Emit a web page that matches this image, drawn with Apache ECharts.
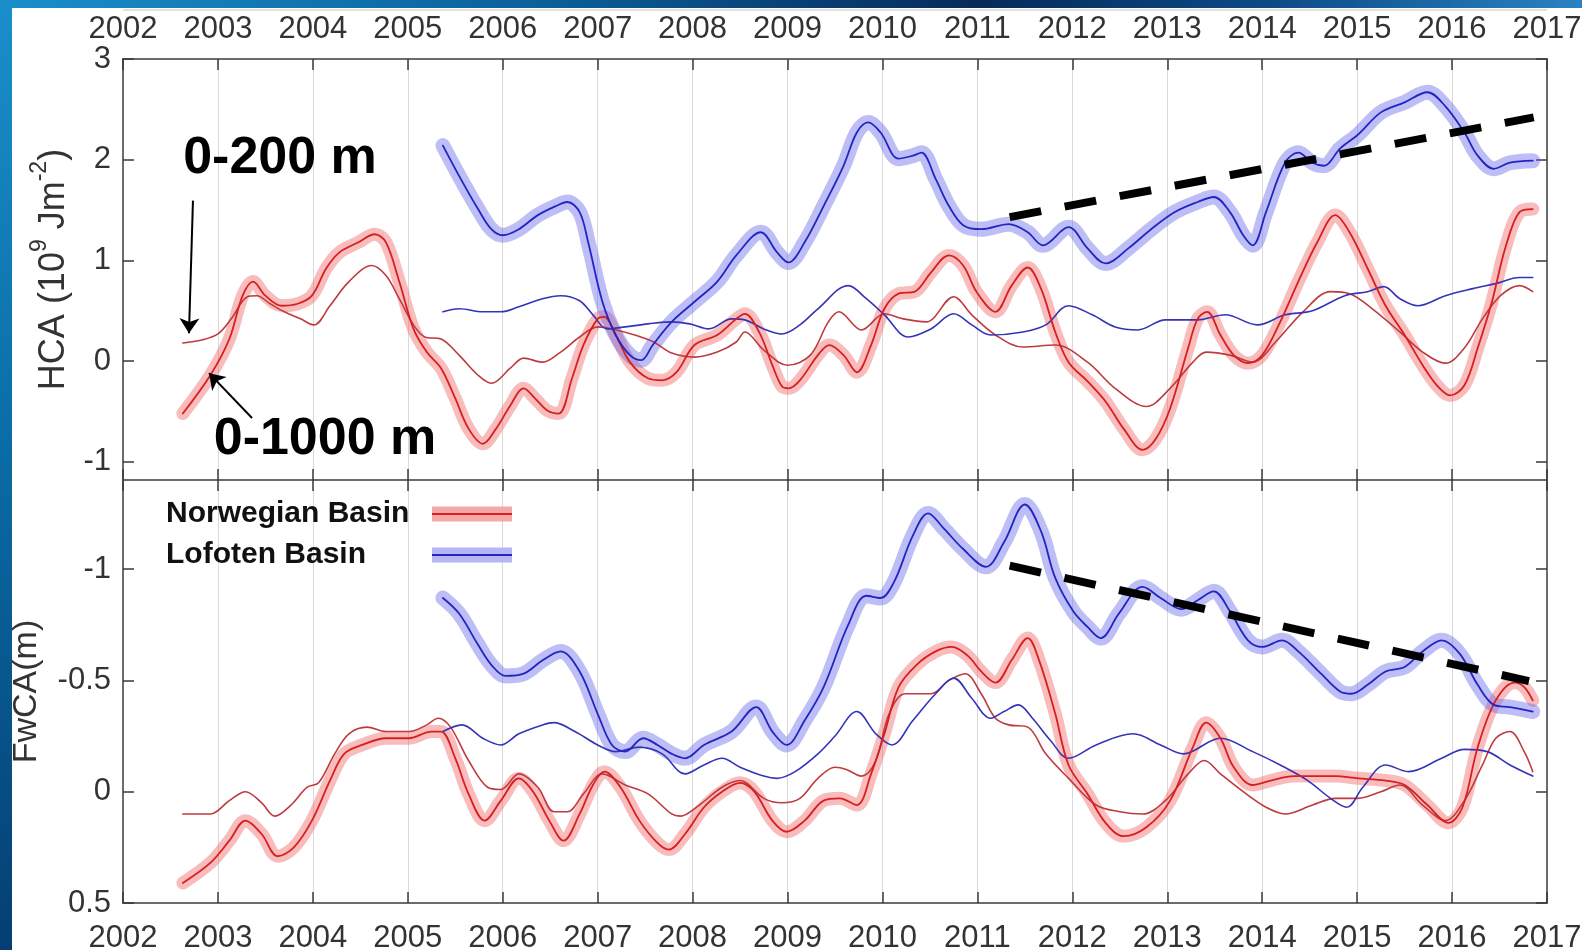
<!DOCTYPE html>
<html><head><meta charset="utf-8">
<script src="https://cdn.jsdelivr.net/npm/echarts@6/dist/echarts.min.js"></script>
<style>html,body{margin:0;padding:0;background:#fff}#c{width:1582px;height:950px}</style>
</head><body><div id="c"></div>
<script>
// ---------- data ----------
const hcaTicks = [-1, 0, 1, 2, 3];
const fwcaTicks = [-1, -0.5, 0, 0.5];
const legendNames = ['Norwegian Basin', 'Lofoten Basin'];
const depthLabels = ['0-200 m', '0-1000 m'];

// HCA (10^9 J m^-2), Norwegian Basin 0-1000 m
const nbHca1000 = [[2002.63,-0.52],[2002.92,-0.14],[2003.12,0.22],[2003.26,0.65],[2003.37,0.79],[2003.50,0.65],[2003.67,0.55],[2003.84,0.57],[2003.99,0.65],[2004.14,0.92],[2004.28,1.08],[2004.48,1.18],[2004.65,1.26],[2004.77,1.18],[2004.91,0.79],[2005.06,0.32],[2005.20,0.09],[2005.35,-0.07],[2005.50,-0.37],[2005.64,-0.67],[2005.79,-0.82],[2005.93,-0.67],[2006.08,-0.44],[2006.22,-0.27],[2006.34,-0.37],[2006.47,-0.49],[2006.59,-0.52],[2006.73,-0.17],[2006.85,0.16],[2007.00,0.42],[2007.07,0.44],[2007.19,0.26],[2007.34,-0.01],[2007.53,-0.17],[2007.68,-0.19],[2007.83,-0.11],[2008.02,0.16],[2008.26,0.26],[2008.46,0.42],[2008.55,0.47],[2008.70,0.29],[2008.84,-0.04],[2008.94,-0.25],[2009.01,-0.27],[2009.13,-0.19],[2009.32,0.06],[2009.44,0.16],[2009.59,0.06],[2009.73,-0.11],[2009.88,0.16],[2010.02,0.52],[2010.17,0.67],[2010.34,0.69],[2010.51,0.88],[2010.70,1.05],[2010.85,0.95],[2010.99,0.69],[2011.19,0.49],[2011.36,0.75],[2011.53,0.93],[2011.67,0.72],[2011.82,0.29],[2011.96,-0.01],[2012.16,-0.20],[2012.35,-0.40],[2012.54,-0.67],[2012.74,-0.88],[2012.88,-0.77],[2013.03,-0.47],[2013.22,0.13],[2013.32,0.42],[2013.42,0.49],[2013.56,0.26],[2013.70,0.06],[2013.85,-0.02],[2014.00,0.06],[2014.19,0.39],[2014.38,0.79],[2014.58,1.18],[2014.77,1.45],[2014.92,1.28],[2015.11,0.92],[2015.30,0.55],[2015.50,0.26],[2015.69,-0.04],[2015.84,-0.24],[2015.98,-0.34],[2016.13,-0.24],[2016.27,0.13],[2016.42,0.59],[2016.56,1.12],[2016.71,1.48],[2016.85,1.51]];
// HCA, Norwegian Basin 0-200 m
const nbHca200 = [[2002.63,0.18],[2002.83,0.21],[2003.00,0.27],[2003.14,0.42],[2003.31,0.64],[2003.41,0.65],[2003.55,0.57],[2003.70,0.49],[2003.87,0.42],[2004.01,0.36],[2004.18,0.55],[2004.38,0.79],[2004.62,0.95],[2004.77,0.85],[2004.91,0.62],[2005.06,0.36],[2005.18,0.24],[2005.35,0.22],[2005.54,0.06],[2005.74,-0.14],[2005.88,-0.22],[2006.08,-0.07],[2006.22,0.03],[2006.42,-0.01],[2006.61,0.09],[2006.81,0.24],[2007.00,0.34],[2007.15,0.32],[2007.39,0.26],[2007.59,0.19],[2007.78,0.08],[2008.02,0.04],[2008.26,0.09],[2008.46,0.19],[2008.55,0.29],[2008.75,0.11],[2009.00,-0.04],[2009.24,0.06],[2009.43,0.39],[2009.54,0.49],[2009.78,0.31],[2010.02,0.47],[2010.22,0.42],[2010.46,0.39],[2010.75,0.64],[2010.94,0.46],[2011.19,0.26],[2011.48,0.14],[2011.82,0.16],[2012.16,-0.01],[2012.45,-0.27],[2012.78,-0.45],[2013.03,-0.27],[2013.27,-0.01],[2013.41,0.09],[2013.66,0.06],[2013.90,-0.01],[2014.14,0.19],[2014.43,0.49],[2014.72,0.69],[2014.92,0.67],[2015.16,0.52],[2015.45,0.29],[2015.69,0.09],[2015.93,-0.02],[2016.13,0.13],[2016.32,0.42],[2016.51,0.65],[2016.71,0.75],[2016.85,0.69]];
// HCA, Lofoten Basin 0-1000 m
const lbHca1000 = [[2005.37,2.14],[2005.54,1.84],[2005.74,1.51],[2005.88,1.31],[2006.00,1.25],[2006.17,1.31],[2006.37,1.45],[2006.56,1.54],[2006.68,1.58],[2006.81,1.48],[2006.90,1.18],[2007.05,0.59],[2007.19,0.26],[2007.34,0.06],[2007.46,0.01],[2007.58,0.16],[2007.78,0.39],[2008.02,0.59],[2008.26,0.79],[2008.46,1.05],[2008.72,1.28],[2008.89,1.08],[2009.01,0.98],[2009.18,1.18],[2009.38,1.54],[2009.59,1.94],[2009.73,2.27],[2009.85,2.37],[2009.98,2.27],[2010.17,2.01],[2010.32,2.04],[2010.41,2.07],[2010.56,1.81],[2010.70,1.54],[2010.85,1.35],[2011.04,1.31],[2011.33,1.36],[2011.53,1.28],[2011.69,1.15],[2011.96,1.33],[2012.16,1.12],[2012.35,0.97],[2012.59,1.12],[2012.83,1.31],[2013.08,1.48],[2013.32,1.58],[2013.49,1.63],[2013.66,1.48],[2013.80,1.25],[2013.90,1.15],[2014.04,1.48],[2014.24,1.97],[2014.38,2.07],[2014.53,1.97],[2014.65,1.94],[2014.82,2.11],[2015.01,2.25],[2015.25,2.47],[2015.50,2.57],[2015.74,2.67],[2015.93,2.53],[2016.13,2.27],[2016.27,2.04],[2016.44,1.91],[2016.61,1.97],[2016.85,1.99]];
// HCA, Lofoten Basin 0-200 m
const lbHca200 = [[2005.37,0.49],[2005.54,0.52],[2005.79,0.49],[2005.98,0.49],[2006.17,0.54],[2006.42,0.62],[2006.61,0.65],[2006.81,0.60],[2006.95,0.46],[2007.10,0.32],[2007.29,0.34],[2007.53,0.37],[2007.78,0.39],[2007.97,0.37],[2008.17,0.32],[2008.41,0.42],[2008.55,0.41],[2008.75,0.32],[2008.94,0.27],[2009.13,0.36],[2009.32,0.52],[2009.64,0.75],[2009.83,0.62],[2010.02,0.46],[2010.27,0.24],[2010.51,0.32],[2010.75,0.47],[2010.94,0.36],[2011.14,0.26],[2011.48,0.29],[2011.72,0.36],[2011.96,0.55],[2012.21,0.46],[2012.45,0.34],[2012.69,0.31],[2012.98,0.41],[2013.32,0.41],[2013.61,0.46],[2013.95,0.36],[2014.24,0.46],[2014.53,0.50],[2014.87,0.65],[2015.11,0.69],[2015.28,0.74],[2015.45,0.62],[2015.64,0.55],[2015.93,0.65],[2016.22,0.72],[2016.46,0.77],[2016.71,0.83],[2016.85,0.83]];

// FwCA (m), Norwegian Basin 0-1000 m
const nbFw1000 = [[2002.63,0.41],[2002.92,0.32],[2003.12,0.22],[2003.29,0.13],[2003.46,0.19],[2003.63,0.29],[2003.80,0.25],[2003.99,0.13],[2004.18,-0.05],[2004.33,-0.17],[2004.52,-0.21],[2004.77,-0.24],[2005.01,-0.24],[2005.25,-0.27],[2005.35,-0.27],[2005.50,-0.15],[2005.64,0.01],[2005.81,0.13],[2005.98,0.04],[2006.17,-0.06],[2006.32,0.00],[2006.49,0.13],[2006.64,0.22],[2006.81,0.10],[2006.95,-0.03],[2007.07,-0.09],[2007.24,-0.02],[2007.44,0.13],[2007.63,0.23],[2007.75,0.26],[2007.92,0.19],[2008.12,0.07],[2008.31,0.00],[2008.50,-0.04],[2008.65,0.00],[2008.84,0.13],[2008.99,0.18],[2009.18,0.13],[2009.38,0.04],[2009.55,0.03],[2009.73,0.06],[2009.88,-0.08],[2010.02,-0.26],[2010.17,-0.47],[2010.36,-0.57],[2010.56,-0.63],[2010.73,-0.65],[2010.90,-0.61],[2011.04,-0.54],[2011.19,-0.49],[2011.36,-0.59],[2011.53,-0.69],[2011.65,-0.59],[2011.82,-0.35],[2011.96,-0.12],[2012.16,0.01],[2012.35,0.14],[2012.54,0.20],[2012.78,0.16],[2013.03,0.04],[2013.27,-0.20],[2013.41,-0.31],[2013.56,-0.24],[2013.70,-0.11],[2013.90,-0.03],[2014.09,-0.05],[2014.33,-0.07],[2014.58,-0.07],[2014.77,-0.07],[2015.01,-0.06],[2015.30,-0.05],[2015.50,-0.03],[2015.74,0.06],[2015.96,0.14],[2016.11,0.07],[2016.27,-0.20],[2016.46,-0.41],[2016.66,-0.49],[2016.76,-0.47],[2016.85,-0.41]];
// FwCA, Norwegian Basin 0-200 m
const nbFw200 = [[2002.63,0.10],[2002.92,0.10],[2003.12,0.04],[2003.29,0.00],[2003.46,0.05],[2003.60,0.11],[2003.77,0.06],[2003.94,-0.02],[2004.06,-0.04],[2004.23,-0.17],[2004.38,-0.26],[2004.57,-0.29],[2004.77,-0.27],[2005.01,-0.27],[2005.20,-0.30],[2005.32,-0.33],[2005.45,-0.29],[2005.64,-0.14],[2005.84,-0.02],[2005.98,-0.01],[2006.17,-0.08],[2006.37,-0.02],[2006.54,0.09],[2006.68,0.09],[2006.85,0.01],[2007.05,-0.08],[2007.29,-0.03],[2007.53,0.01],[2007.78,0.10],[2007.87,0.11],[2008.07,0.06],[2008.31,-0.02],[2008.50,-0.05],[2008.75,0.03],[2008.94,0.05],[2009.13,0.03],[2009.32,-0.06],[2009.50,-0.11],[2009.62,-0.10],[2009.78,-0.07],[2009.93,-0.14],[2010.07,-0.35],[2010.24,-0.44],[2010.51,-0.44],[2010.70,-0.50],[2010.87,-0.53],[2011.04,-0.44],[2011.19,-0.33],[2011.33,-0.30],[2011.53,-0.29],[2011.72,-0.17],[2011.96,-0.06],[2012.25,0.06],[2012.50,0.09],[2012.74,0.10],[2012.98,0.04],[2013.22,-0.08],[2013.39,-0.14],[2013.56,-0.08],[2013.80,0.00],[2014.04,0.07],[2014.24,0.10],[2014.53,0.06],[2014.77,0.03],[2015.01,0.03],[2015.25,0.00],[2015.45,-0.03],[2015.69,0.06],[2015.93,0.13],[2016.13,0.04],[2016.32,-0.12],[2016.46,-0.24],[2016.61,-0.27],[2016.76,-0.18],[2016.85,-0.09]];
// FwCA, Lofoten Basin 0-1000 m
const lbFw1000 = [[2005.37,-0.87],[2005.54,-0.80],[2005.74,-0.66],[2005.88,-0.57],[2006.03,-0.52],[2006.22,-0.53],[2006.42,-0.59],[2006.61,-0.63],[2006.81,-0.54],[2007.00,-0.35],[2007.15,-0.21],[2007.29,-0.18],[2007.48,-0.24],[2007.63,-0.21],[2007.78,-0.17],[2007.92,-0.15],[2008.12,-0.21],[2008.41,-0.27],[2008.67,-0.38],[2008.84,-0.27],[2008.99,-0.21],[2009.18,-0.32],[2009.38,-0.47],[2009.64,-0.75],[2009.83,-0.88],[2009.98,-0.87],[2010.12,-0.94],[2010.32,-1.15],[2010.48,-1.25],[2010.65,-1.18],[2010.85,-1.09],[2011.09,-1.01],[2011.28,-1.12],[2011.50,-1.29],[2011.67,-1.17],[2011.82,-0.96],[2012.01,-0.81],[2012.16,-0.74],[2012.30,-0.69],[2012.49,-0.80],[2012.74,-0.92],[2012.93,-0.87],[2013.15,-0.82],[2013.32,-0.86],[2013.49,-0.90],[2013.66,-0.81],[2013.85,-0.68],[2014.00,-0.65],[2014.21,-0.68],[2014.38,-0.63],[2014.62,-0.53],[2014.82,-0.45],[2014.94,-0.44],[2015.11,-0.48],[2015.30,-0.54],[2015.50,-0.56],[2015.69,-0.63],[2015.89,-0.68],[2016.08,-0.62],[2016.27,-0.48],[2016.44,-0.39],[2016.61,-0.38],[2016.85,-0.36]];
// FwCA, Lofoten Basin 0-200 m
const lbFw200 = [[2005.37,-0.27],[2005.57,-0.30],[2005.79,-0.24],[2005.98,-0.21],[2006.17,-0.26],[2006.42,-0.30],[2006.54,-0.31],[2006.76,-0.27],[2007.00,-0.21],[2007.19,-0.18],[2007.44,-0.20],[2007.68,-0.17],[2007.92,-0.08],[2008.12,-0.12],[2008.31,-0.15],[2008.50,-0.11],[2008.75,-0.07],[2008.89,-0.06],[2009.08,-0.09],[2009.32,-0.17],[2009.50,-0.25],[2009.73,-0.36],[2009.93,-0.26],[2010.10,-0.21],[2010.32,-0.32],[2010.56,-0.44],[2010.75,-0.51],[2010.94,-0.42],[2011.14,-0.33],[2011.28,-0.36],[2011.43,-0.39],[2011.58,-0.33],[2011.77,-0.23],[2011.96,-0.15],[2012.25,-0.21],[2012.64,-0.26],[2012.93,-0.21],[2013.17,-0.17],[2013.56,-0.24],[2013.90,-0.18],[2014.19,-0.12],[2014.48,-0.05],[2014.72,0.03],[2014.89,0.07],[2015.06,-0.02],[2015.30,-0.12],[2015.54,-0.09],[2015.89,-0.15],[2016.13,-0.19],[2016.37,-0.18],[2016.61,-0.12],[2016.85,-0.07]];

// trend lines (dashed) and annotation positions, in data units
const trendHca = [[2011.34, 1.43], [2016.86, 2.42]];
const trendFw = [[2011.34, -1.015], [2016.81, -0.497]];
const arrow200 = [[2002.737, 1.594], [2002.695, 0.277]];
const arrow1000 = [[2003.359, -0.564], [2002.906, -0.119]];
const label200 = [2003.654, 2.01];
const label1000 = [2004.128, -0.782];

// ---------- styles ----------
const FONT = "'Liberation Sans', Arial, Helvetica, sans-serif";
const RED = '#d81e1e', RED_THIN = '#bf3a3e', RED_BAND = 'rgba(238,80,80,0.38)';
const BLUE = '#2424c4', BLUE_THIN = '#3434b8', BLUE_BAND = 'rgba(100,100,234,0.42)';
const AXIS = '#6b6b6b', TXT = '#333';

function bandGrad(band, core) {
  return {type:'linear', x:0, y:0, x2:0, y2:1, colorStops:[
    {offset:0,color:band},{offset:0.4,color:band},{offset:0.42,color:core},
    {offset:0.58,color:core},{offset:0.6,color:band},{offset:1,color:band}]};
}

function ln(name, data, xi, yi, color, width, z) {
  return {name, type:'line', data, xAxisIndex:xi, yAxisIndex:yi, smooth:0.35,
    symbol:'none', showSymbol:false, silent:true, emphasis:{disabled:true},
    lineStyle:{color, width, cap:'round', join:'round'}, itemStyle:{color}, z};
}

function xAx(grid, pos, labels, split) {
  return {gridIndex:grid, type:'value', min:2002, max:2017, interval:1, position:pos,
    axisLine:{show:true, onZero:false, lineStyle:{color:AXIS, width:2}},
    axisTick:{show:true, inside:true, length:11, lineStyle:{color:'#3a3a3a', width:1.5}},
    axisLabel:{show:labels, margin: pos==='top'?14:20, fontSize:31, color:TXT, fontFamily:FONT,
      formatter:v=>String(v), hideOverlap:false},
    splitLine:{show:split, lineStyle:{color:'#d9d9d9', width:1}}};
}

function yAx(grid, pos, min, max, ticks, inverse, labels, name, nameGap, rich, nameSize) {
  const ns = nameSize || 36;
  return {gridIndex:grid, type:'value', min, max, inverse, position:pos,
    name: name || '', nameLocation:'middle', nameGap, nameRotate:90,
    nameTextStyle: rich ? {fontSize:ns, color:TXT, fontFamily:FONT, rich} : {fontSize:ns, color:TXT, fontFamily:FONT},
    axisLine:{show:true, onZero:false, lineStyle:{color:AXIS, width:2}},
    axisTick:{show:true, inside:true, length:11, customValues:ticks, lineStyle:{color:'#3a3a3a', width:1.5}},
    axisLabel:{show:labels, customValues:ticks, margin:12, fontSize:31, color:TXT, fontFamily:FONT,
      formatter:v=>String(v)},
    splitLine:{show:false}};
}

const hcaRich = {
  a:{fontSize:36, color:TXT, fontFamily:FONT, lineHeight:44, verticalAlign:'bottom'},
  s:{fontSize:23, color:TXT, fontFamily:FONT, lineHeight:44, verticalAlign:'top'}
};

const chart = echarts.init(document.getElementById('c'), null, {renderer:'canvas'});
chart.setOption({
  animation:false,
  backgroundColor:'#ffffff',
  graphic:[
    {type:'rect', left:0, top:0, z:100, shape:{width:12, height:950},
      style:{fill:{type:'linear',x:0,y:0,x2:0,y2:1,colorStops:[{offset:0,color:'#1a8fcb'},{offset:0.45,color:'#0a6ea8'},{offset:1,color:'#053e72'}]}}},
    {type:'rect', left:0, top:0, z:100, shape:{width:1582, height:8},
      style:{fill:{type:'linear',x:0,y:0,x2:1,y2:0,colorStops:[{offset:0,color:'#1a8fcb'},{offset:0.35,color:'#0b5f99'},{offset:0.62,color:'#062a5a'},{offset:0.8,color:'#0c4a86'},{offset:1,color:'#2a82c2'}]}}},
    {type:'line', z:50, shape:{x1:123, y1:10, x2:1547, y2:10}, style:{stroke:'#c8c8c8', lineWidth:1}}
  ],
  grid:[
    {left:123, right:35, top:59, height:421, containLabel:false, outerBoundsMode:'none'},
    {left:123, right:35, top:480, height:423, containLabel:false, outerBoundsMode:'none'}
  ],
  legend:{
    left:161, top:494, orient:'vertical', align:'right', itemGap:11,
    itemWidth:80, itemHeight:15, selectedMode:false,
    formatter: n => '{t|' + n + '}',
    textStyle:{rich:{t:{width:261, align:'left', fontSize:30, fontWeight:'bold', color:'#111', fontFamily:FONT, lineHeight:36}}},
    data:[
      {name:legendNames[0], icon:'rect', itemStyle:{color:bandGrad('#f4a8a8', '#d81e1e')}},
      {name:legendNames[1], icon:'rect', itemStyle:{color:bandGrad('#b6b6f2', '#2424c4')}}
    ]
  },
  xAxis:[
    xAx(0,'top',true,true), xAx(0,'bottom',false,false),
    xAx(1,'top',false,false), xAx(1,'bottom',true,true)
  ],
  yAxis:[
    yAx(0,'left',-1.18,3,hcaTicks,false,true,'{a|HCA (10}{s|9}{a| Jm}{s|-2}{a|)}',51,hcaRich),
    yAx(0,'right',-1.18,3,hcaTicks,false,false),
    yAx(1,'left',-1.4,0.5,fwcaTicks,true,true,'FwCA(m)',79,null,34),
    yAx(1,'right',-1.4,0.5,fwcaTicks,true,false)
  ],
  series:[
    // top panel: HCA
    ln('nb-hca-band', nbHca1000, 0, 0, RED_BAND, 13, 2),
    ln('lb-hca-band', lbHca1000, 0, 0, BLUE_BAND, 15, 2),
    ln('nb-hca-200', nbHca200, 0, 0, RED_THIN, 1.6, 3),
    ln('lb-hca-200', lbHca200, 0, 0, BLUE_THIN, 1.6, 3),
    ln('nb-hca-1000', nbHca1000, 0, 0, RED, 1.8, 4),
    ln('lb-hca-1000', lbHca1000, 0, 0, BLUE, 1.8, 4),
    Object.assign(ln('trend-hca', trendHca, 0, 0, '#000', 8, 6), {
      smooth:false,
      lineStyle:{color:'#000', width:8, type:[32,24], cap:'butt'},
      markLine:{silent:true, animation:false, symbol:['none','arrow'], symbolSize:15,
        label:{show:false}, emphasis:{disabled:true},
        lineStyle:{color:'#000', width:2, type:'solid'},
        data:[
          [{coord:arrow200[0]},{coord:arrow200[1]}],
          [{coord:arrow1000[0]},{coord:arrow1000[1]}]
        ]},
      markPoint:{silent:true, animation:false, symbol:'rect', symbolSize:1,
        itemStyle:{color:'rgba(0,0,0,0)'},
        label:{show:true, position:'inside', fontSize:52, fontWeight:'bold', color:'#000', fontFamily:FONT},
        data:[
          {coord:label200, label:{formatter:depthLabels[0]}},
          {coord:label1000, label:{formatter:depthLabels[1]}}
        ]}
    }),
    // bottom panel: FwCA
    ln(legendNames[0], nbFw1000, 3, 2, RED_BAND, 13, 2),
    ln(legendNames[1], lbFw1000, 3, 2, BLUE_BAND, 15, 2),
    ln('nb-fw-200', nbFw200, 3, 2, RED_THIN, 1.6, 3),
    ln('lb-fw-200', lbFw200, 3, 2, BLUE_THIN, 1.6, 3),
    ln('nb-fw-1000', nbFw1000, 3, 2, RED, 1.8, 4),
    ln('lb-fw-1000', lbFw1000, 3, 2, BLUE, 1.8, 4),
    Object.assign(ln('trend-fw', trendFw, 3, 2, '#000', 8, 6), {
      smooth:false,
      lineStyle:{color:'#000', width:8, type:[32,24], cap:'butt'}
    })
  ]
});
</script>
</body></html>
